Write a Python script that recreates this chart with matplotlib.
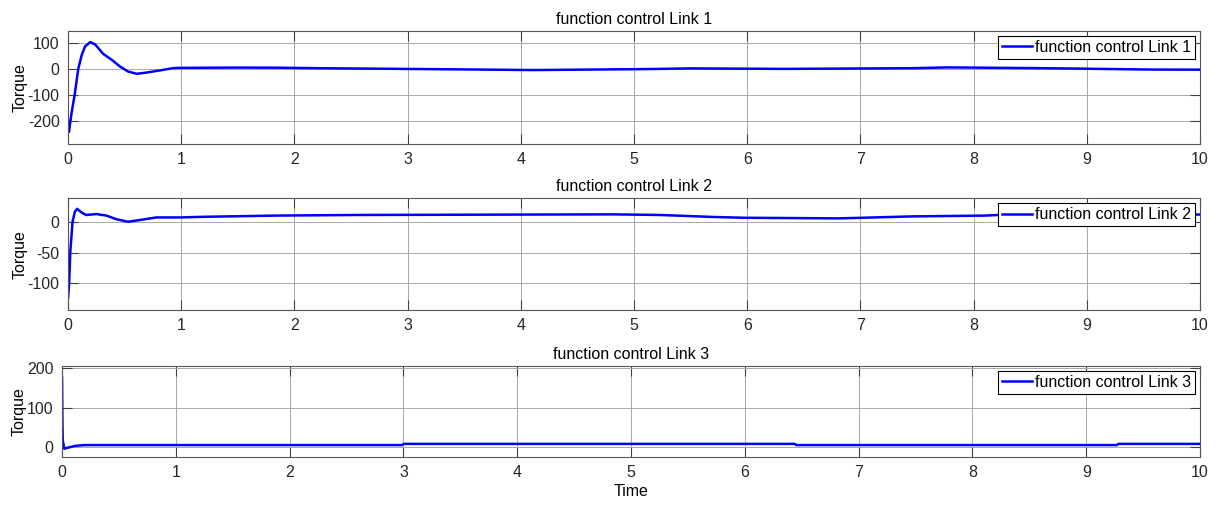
import numpy as np
import matplotlib
matplotlib.use('Agg')
import matplotlib.pyplot as plt

# control torque of each link, sampled at the turning points of the response
t1 = [0, 0.008, 0.03, 0.06, 0.09, 0.12, 0.15, 0.195, 0.24, 0.31, 0.386, 0.46, 0.53,
      0.607, 0.695, 0.81, 0.93, 1.0, 1.5, 1.87, 2.24, 2.62, 2.95, 3.29, 3.65, 4.1,
      4.61, 4.97, 5.23, 5.5, 6.33, 7.14, 7.44, 7.77, 8.53, 8.91, 9.23, 9.59, 10]
u1 = [-197, -242, -172, -95, 0, 53, 87, 104, 95, 59, 36, 10, -9,
      -18, -13, -5, 4, 5, 6, 5.5, 3.5, 2.2, 1, -0.3, -1.6, -3.5,
      -1.6, -0.3, 1, 2.9, 1, 2.9, 3.5, 6.7, 4, 2.2, 0.3, -1.6, -2]

t2 = [0, 0.01, 0.02, 0.04, 0.06, 0.08, 0.12, 0.16, 0.25, 0.34, 0.43, 0.53, 0.64,
      0.78, 0.99, 1.19, 1.83, 2.56, 4.81, 5.23, 5.48, 5.71, 5.97, 6.81, 7.12, 7.46,
      8.1, 8.3, 10]
u2 = [-124, -100, -49, 0, 16, 21, 15, 11, 12.5, 10, 4, 0, 3,
      7, 7, 8, 10, 11, 12, 11, 9.3, 7.7, 6.5, 5.5, 7, 8.7,
      10, 11.7, 11.7]

t3 = [0, 0.003, 0.006, 0.02, 0.03, 0.114, 0.2, 2.99, 3.0, 6.44, 6.45, 9.27, 9.28, 10]
u3 = [175, 74, 18, -3, -2, 4, 6, 6, 9, 9, 6, 6, 9, 9]

xticks = np.arange(0, 11, 1)
yticks = [[-200, -100, 0, 100], [-100, -50, 0], [0, 100, 200]]
ylims = [(-288, 147), (-143, 38), (-23, 204)]
names = ['function control Link 1', 'function control Link 2', 'function control Link 3']

plt.rcParams['font.family'] = ['Liberation Sans', 'DejaVu Sans']
plt.rcParams['axes.unicode_minus'] = False
fig = plt.figure(figsize=(12.19, 5.05), dpi=100)

boxes = [[0.0558, 0.7149, 0.9286, 0.2238],
         [0.0558, 0.3861, 0.9286, 0.2212],
         [0.0509, 0.0957, 0.9336, 0.1796]]
label_x = [-0.036, -0.036, -0.031]

txt = '#262626'
for k, (t, u) in enumerate([(t1, u1), (t2, u2), (t3, u3)]):
    ax = fig.add_axes(boxes[k])
    ax.plot(t, u, color='#0000ff', lw=1.8, label=names[k])
    ax.set_xlim(0, 10)
    ax.set_ylim(*ylims[k])
    ax.set_xticks(xticks)
    ax.set_yticks(yticks[k])
    ax.grid(True, color='#a8a8a8', lw=0.7)
    ax.set_axisbelow(True)
    ax.tick_params(direction='in', length=7, width=0.8, color='#404040',
                   top=True, right=True, labelsize=11.5, labelcolor=txt, pad=6)
    for s in ax.spines.values():
        s.set_color('#555555')
        s.set_linewidth(0.8)
    ax.set_title(names[k], fontsize=11.5, color='black', pad=5)
    ax.set_ylabel('Torque', fontsize=11.5, color='black')
    ax.yaxis.set_label_coords(label_x[k], 0.5)
    leg = ax.legend(loc='upper right', fontsize=11.5, frameon=True, fancybox=False,
                    handlelength=1.9, handletextpad=0.2, borderpad=0.25,
                    borderaxespad=0.3, framealpha=1)
    leg.get_frame().set_edgecolor('black')
    leg.get_frame().set_linewidth(0.8)
    if k == 2:
        ax.set_xlabel('Time', fontsize=11.5, color='black', labelpad=3)

fig.savefig('out.png', dpi=100)
